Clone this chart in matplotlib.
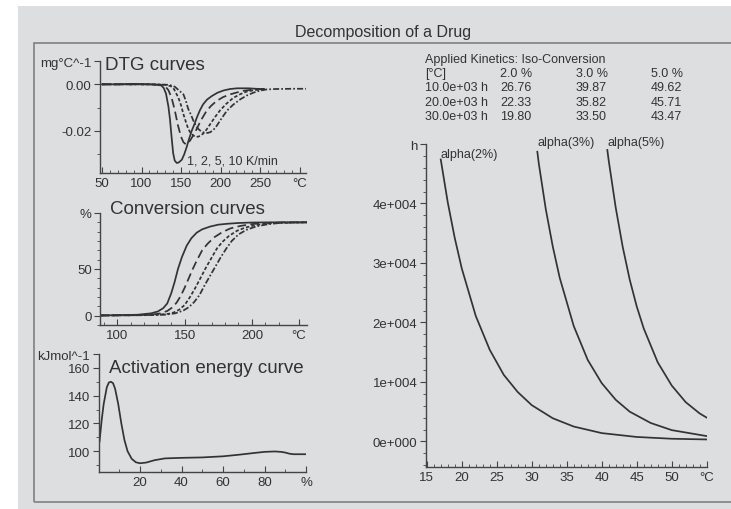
import matplotlib
matplotlib.use("Agg")
import matplotlib.pyplot as plt
from matplotlib.patches import Rectangle
from matplotlib.ticker import FixedLocator

plt.rcParams['font.family'] = ['Liberation Sans', 'DejaVu Sans']

W, H = 731, 510
INK = '#333333'
BG = '#dddee0'

# DTG curves (1, 2, 5, 10 K/min)
dtg1_t = [50, 70, 90, 110, 120, 125, 128, 131, 134, 136, 138, 140, 142, 144.5, 147, 151, 154, 157, 160,
          163.5, 167, 170, 174, 178, 183, 189, 196, 204, 212, 221, 235, 250, 255]
dtg1_v = [0, 0, 0.0002, 0, -0.0002, -0.0005, -0.0015, -0.004, -0.0095, -0.015, -0.0225, -0.0295, -0.0327,
          -0.0337, -0.0335, -0.0323, -0.030, -0.027, -0.0235, -0.0199, -0.017, -0.0142, -0.011, -0.0085,
          -0.0065, -0.005, -0.0036, -0.0026, -0.002, -0.0017, -0.0017, -0.002, -0.002]
dtg2_t = [50, 80, 110, 125, 130, 134, 138, 142, 146, 150, 153, 156, 159, 162, 166, 170, 175, 182, 188,
          195, 203, 212, 228, 240, 255]
dtg2_v = [0, 0, 0, -0.0002, -0.0008, -0.0025, -0.0057, -0.011, -0.0175, -0.0225, -0.0248, -0.0257, -0.0252,
          -0.0238, -0.0215, -0.019, -0.0155, -0.0115, -0.0092, -0.0071, -0.0055, -0.0043, -0.0028, -0.0023,
          -0.002]
dtg5_t = [50, 110, 130, 137, 141, 146.6, 150, 153, 156, 159, 162, 165.6, 169, 172, 175, 178, 182, 187, 193,
          199, 207, 216, 225, 233, 244, 255]
dtg5_v = [0, 0, -0.0002, -0.0008, -0.002, -0.0057, -0.009, -0.0128, -0.016, -0.019, -0.0208, -0.022, -0.0225,
          -0.0224, -0.0219, -0.0211, -0.0195, -0.017, -0.014, -0.0113, -0.0084, -0.0058, -0.0042, -0.0031,
          -0.0024, -0.0021]
dtg10_t = [50, 110, 135, 142, 147, 153, 156, 159, 162.5, 165.6, 169, 172, 176, 180, 184, 187, 191, 195, 201,
           208, 216, 225, 233, 242, 250, 258, 270, 290, 308]
dtg10_v = [0, 0, -0.0002, -0.001, -0.0025, -0.0043, -0.007, -0.0105, -0.013, -0.0156, -0.018, -0.0192, -0.0203,
           -0.0208, -0.0208, -0.0205, -0.0195, -0.0178, -0.0147, -0.0113, -0.0087, -0.0064, -0.0048, -0.0035,
           -0.0027, -0.0022, -0.002, -0.0019, -0.0019]

# conversion curves (%)
conv1_t = [87, 100, 115, 125, 130, 134, 137, 140, 142.5, 145, 148, 151.5, 155, 159, 163, 169, 175, 182, 190, 200, 215, 241]
conv1_v = [0.3, 0.5, 1, 2.5, 4.5, 8, 13, 24, 36, 50, 63, 75, 83, 89, 92.5, 95.5, 97.5, 98.5, 99.3, 99.8, 100, 100]
conv2_t = [87, 110, 125, 132, 137, 141, 144, 147, 150, 153, 156, 159, 163, 167, 172, 178, 184, 191, 199, 210, 225, 241]
conv2_v = [0.2, 0.5, 1, 2.5, 5, 9, 14, 21, 30, 40, 50, 59, 70, 77, 84, 89.5, 93.5, 96, 98, 99.3, 100, 100]
conv5_t = [87, 115, 130, 138, 142, 146, 150, 154, 158, 162, 166, 170, 174, 178, 183, 189, 195, 201, 210, 220, 241]
conv5_v = [0.2, 0.5, 1, 2, 3.5, 6.5, 11.5, 20, 30, 41, 52, 62, 72, 79, 85.5, 91, 94.3, 96.5, 98.5, 99.5, 100]
conv10_t = [87, 120, 135, 143, 149, 153, 157, 161, 165, 169, 173, 177, 181, 185, 190, 196, 203, 212, 222, 241]
conv10_v = [0.2, 0.5, 1, 2.5, 5.5, 9, 14.5, 22, 33, 43, 53, 63, 72, 80, 87, 92, 95.5, 98, 99.5, 100]

# activation energy vs conversion
act_x = [0.5, 1.5, 2.5, 4, 5, 6, 7, 8, 9.5, 11, 12.5, 14, 16, 18, 20, 23, 27, 32, 40, 50, 60, 68, 75, 80,
         85, 88, 90, 92, 94, 100]
act_e = [107, 122, 134, 146, 149.5, 150, 149, 145, 134, 120, 108, 100, 94.5, 92, 91.3, 91.8, 93.5, 94.8,
         95.2, 95.5, 96.3, 97.5, 98.7, 99.5, 99.8, 99.5, 99, 98.2, 97.8, 97.8]

# iso-conversion prediction (time in h vs temperature)
a2_t = [17, 18, 19, 20, 22, 24, 26, 28, 30, 33, 36, 40, 45, 50, 55]
a2_h = [47400, 40200, 34200, 29100, 21100, 15400, 11200, 8300, 6100, 3900, 2500, 1400, 750, 450, 330]
a3_t = [30.8, 31, 32, 33, 34, 36, 38, 40, 42, 44, 47, 50, 55]
a3_h = [48700, 46800, 39100, 32800, 27500, 19400, 13700, 9800, 7000, 5000, 3100, 1900, 900]
a5_t = [40.8, 41, 42, 43, 44, 45, 46, 48, 50, 52, 54, 55]
a5_h = [49000, 47200, 39300, 32700, 27200, 22700, 19000, 13300, 9400, 6600, 4700, 4000]

table_rows = [["[°C]", "2.0 %", "3.0 %", "5.0 %"],
              ["10.0e+03 h", "26.76", "39.87", "49.62"],
              ["20.0e+03 h", "22.33", "35.82", "45.71"],
              ["30.0e+03 h", "19.80", "33.50", "43.47"]]

styles = ['-', (0, (5, 2.5)), (0, (2, 1.2)), (0, (3.5, 1.2, 1, 1.2))]

fig = plt.figure(figsize=(W / 100, H / 100), dpi=100, facecolor='white')
fig.patches.append(Rectangle((18 / W, 0), 1, 1 - 7 / H, transform=fig.transFigure,
                             facecolor=BG, edgecolor='none', zorder=-10))
fig.patches.append(Rectangle((34 / W, 1 - 503 / H), 1, (503 - 44) / H, transform=fig.transFigure,
                             facecolor='none', edgecolor='#808080', lw=1.2, zorder=-9))
fig.text(383 / W, 1 - 32 / H, "Decomposition of a Drug", ha='center', va='center', fontsize=11.5, color=INK)


def px_axes(l, t, r, b):
    ax = fig.add_axes([l / W, 1 - b / H, (r - l) / W, (b - t) / H])
    ax.set_facecolor('none')
    for s in ['top', 'right']:
        ax.spines[s].set_visible(False)
    for s in ['left', 'bottom']:
        ax.spines[s].set_color('#444444')
        ax.spines[s].set_linewidth(1.0)
    ax.tick_params(axis='x', which='both', direction='in', colors='#444444', labelcolor=INK,
                   labelsize=9.5, pad=3)
    ax.tick_params(axis='y', which='both', direction='out', colors='#444444', labelcolor=INK,
                   labelsize=9.5, pad=2)
    ax.tick_params(which='major', length=4)
    ax.tick_params(which='minor', length=2.5)
    return ax


def set_ticks(ax, axis, major, labels, minor):
    a = ax.xaxis if axis == 'x' else ax.yaxis
    a.set_major_locator(FixedLocator(major))
    a.set_minor_locator(FixedLocator(minor))
    if axis == 'x':
        ax.set_xticklabels(labels)
    else:
        ax.set_yticklabels(labels)


# DTG
ax1 = px_axes(100, 62, 306, 174)
for t, v, ls in zip([dtg1_t, dtg2_t, dtg5_t, dtg10_t], [dtg1_v, dtg2_v, dtg5_v, dtg10_v], styles):
    ax1.plot(t, v, color=INK, lw=1.25, linestyle=ls)
ax1.set_xlim(47.5, 308)
ax1.set_ylim(-0.038, 0.01)
set_ticks(ax1, 'x', [50, 100, 150, 200, 250, 300], ['50', '100', '150', '200', '250', '°C'],
          list(range(60, 300, 10)))
set_ticks(ax1, 'y', [-0.02, 0.0, 0.01], ['-0.02', '0.00', 'mg°C^-1'], [-0.03, -0.01])
ax1.text(105 / W, 1 - 66 / H, "DTG curves", transform=fig.transFigure, fontsize=13.5, color=INK, va='center')
ax1.text(187 / W, 1 - 162 / H, "1, 2, 5, 10 K/min", transform=fig.transFigure, fontsize=9, color=INK,
         va='center')

# Conversion
ax2 = px_axes(100, 214, 307, 326)
for t, v, ls in zip([conv1_t, conv2_t, conv5_t, conv10_t], [conv1_v, conv2_v, conv5_v, conv10_v], styles):
    ax2.plot(t, v, color=INK, lw=1.25, linestyle=ls)
ax2.set_xlim(87, 241)
ax2.set_ylim(-10, 110)
set_ticks(ax2, 'x', [100, 150, 200, 235], ['100', '150', '200', '°C'], [90, 110, 120, 130, 140, 160, 170, 180, 190, 210, 220])
set_ticks(ax2, 'y', [0, 50, 110], ['0', '50', '%'], [-10, 10, 20, 30, 40, 60, 70, 80, 90, 100])
ax2.text(110 / W, 1 - 210 / H, "Conversion curves", transform=fig.transFigure, fontsize=13.5, color=INK,
         va='center')

# Activation energy
ax3 = px_axes(98.5, 355, 306, 473)
ax3.plot(act_x, act_e, color=INK, lw=1.25)
ax3.set_xlim(0, 100)
ax3.set_ylim(85, 170)
set_ticks(ax3, 'x', [20, 40, 60, 80, 100], ['20', '40', '60', '80', '%'], [10, 30, 50, 70, 90])
set_ticks(ax3, 'y', [100, 120, 140, 160, 170], ['100', '120', '140', '160', 'kJmol^-1'], [90, 110, 130, 150])
ax3.text(109 / W, 1 - 369 / H, "Activation energy curve", transform=fig.transFigure, fontsize=13.5,
         color=INK, va='center')

# Prediction
ax4 = px_axes(425.7, 145, 706.7, 468)
for t, h in [(a2_t, a2_h), (a3_t, a3_h), (a5_t, a5_h)]:
    ax4.plot(t, h, color=INK, lw=1.25)
ax4.set_xlim(14.85, 55)
ax4.set_ylim(-4300, 50000)
set_ticks(ax4, 'x', [15, 20, 25, 30, 35, 40, 45, 50, 55], ['15', '20', '25', '30', '35', '40', '45', '50', '°C'],
          [x for x in range(16, 55) if x % 5])
set_ticks(ax4, 'y', [0, 10000, 20000, 30000, 40000, 50000],
          ['0e+000', '1e+004', '2e+004', '3e+004', '4e+004', 'h'],
          [-4000, -2000] + [y for y in range(2000, 50000, 2000) if y % 10000])
ax4.text(a2_t[0], 48400, "alpha(2%)", fontsize=9, color=INK, va='center', ha='left')
ax4.text(a3_t[0], 50300, "alpha(3%)", fontsize=9, color=INK, va='center', ha='left', clip_on=False)
ax4.text(a5_t[0], 50300, "alpha(5%)", fontsize=9, color=INK, va='center', ha='left', clip_on=False)

# table of iso-conversion results
fig.text(425 / W, 1 - 60 / H, "Applied Kinetics: Iso-Conversion", fontsize=9, color=INK, va='center')
col_x = [425, 500, 575.7, 650.7]
for i, row in enumerate(table_rows):
    for cx, cell in zip(col_x, row):
        fig.text(cx / W, 1 - (74 + 14.3 * i) / H, cell, fontsize=9, color=INK, va='center')

fig.savefig("out.png", dpi=100, facecolor=fig.get_facecolor())
